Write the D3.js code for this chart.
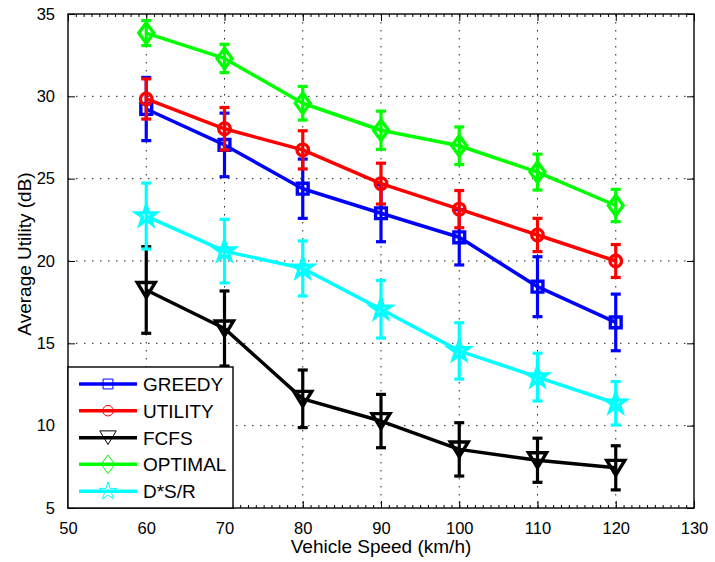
<!DOCTYPE html>
<html>
<head>
<meta charset="utf-8">
<script src="https://cdn.jsdelivr.net/npm/d3@7"></script>
<style>
  html, body { margin: 0; padding: 0; background: #fff; }
  svg { display: block; font-family: Arial, "Liberation Sans", Helvetica, sans-serif; }
</style>
</head>
<body>
<svg id="chart" width="715" height="562"></svg>
<script>
// ---- data ----
const speeds = [60, 70, 80, 90, 100, 110, 120];
const greedy = [29.23, 27.05, 24.39, 22.9, 21.44, 18.44, 16.27];
const greedyErr = [1.92, 1.93, 1.8, 1.73, 1.68, 1.82, 1.72];
const utility = [29.84, 28.03, 26.75, 24.7, 23.15, 21.58, 20.0];
const utilityErr = [1.22, 1.29, 1.16, 1.24, 1.13, 1.01, 1.0];
const fcfs = [18.24, 15.9, 11.63, 10.28, 8.56, 7.9, 7.44];
const fcfsErr = [2.63, 2.28, 1.75, 1.62, 1.62, 1.34, 1.34];
const optimal = [33.84, 32.3, 29.58, 27.94, 27.0, 25.4, 23.37];
const optimalErr = [0.76, 0.86, 1.02, 1.16, 1.14, 1.09, 0.98];
const dsr = [22.73, 20.6, 19.55, 17.07, 14.54, 12.95, 11.36];
const dsrErr = [2.0, 1.93, 1.67, 1.75, 1.71, 1.45, 1.32];

const seriesNames = ["GREEDY", "UTILITY", "FCFS", "OPTIMAL", "D*S/R"];
const xTicks = [50, 60, 70, 80, 90, 100, 110, 120, 130];
const yTicks = [5, 10, 15, 20, 25, 30, 35];
const xLabel = "Vehicle Speed (km/h)";
const yLabel = "Average Utility (dB)";

// ---- config ----
const colors = ["#0000ff", "#ff0000", "#000000", "#00ff00", "#00ffff"];
const markers = ["square", "circle", "triangle", "diamond", "star"];
const series = [
  { name: seriesNames[0], vals: greedy, err: greedyErr },
  { name: seriesNames[1], vals: utility, err: utilityErr },
  { name: seriesNames[2], vals: fcfs, err: fcfsErr },
  { name: seriesNames[3], vals: optimal, err: optimalErr },
  { name: seriesNames[4], vals: dsr, err: dsrErr }
];

const svg = d3.select("#chart");
const L = 68, T = 14, R = 694, B = 508;
const x = d3.scaleLinear().domain([50, 130]).range([L, R]);
const y = d3.scaleLinear().domain([5, 35]).range([B, T]);

// grid
const grid = svg.append("g");
grid.selectAll(".gx").data(xTicks.slice(1, -1)).enter().append("line")
  .attr("x1", d => x(d)).attr("x2", d => x(d)).attr("y1", T).attr("y2", B)
  .attr("stroke", "#222").attr("stroke-width", 1).attr("stroke-dasharray", "1.5,6.5");
grid.selectAll(".gy").data(yTicks.slice(1, -1)).enter().append("line")
  .attr("y1", d => y(d)).attr("y2", d => y(d)).attr("x1", L).attr("x2", R)
  .attr("stroke", "#222").attr("stroke-width", 1).attr("stroke-dasharray", "1.5,6.5");

// axes
const fontTick = 16.5;
const axB = d3.axisBottom(x).tickValues(xTicks).tickSizeInner(-7).tickSizeOuter(0).tickPadding(14);
const axT = d3.axisTop(x).tickValues(xTicks).tickSizeInner(-7).tickSizeOuter(0).tickFormat("");
const axL = d3.axisLeft(y).tickValues(yTicks).tickSizeInner(-7).tickSizeOuter(0).tickPadding(13);
const axR = d3.axisRight(y).tickValues(yTicks).tickSizeInner(-7).tickSizeOuter(0).tickFormat("");
const minor = d3.range(50, 131, 1);
const axBm = d3.axisBottom(x).tickValues(minor).tickSizeInner(-3).tickSizeOuter(0).tickFormat("");
const axTm = d3.axisTop(x).tickValues(minor).tickSizeInner(-3).tickSizeOuter(0).tickFormat("");

function styleAxis(g) {
  g.select(".domain").remove();
  g.selectAll(".tick line").attr("stroke", "#000").attr("stroke-width", 1);
  g.selectAll("text").attr("fill", "#000").attr("font-size", fontTick)
    .attr("font-family", "Arial, 'Liberation Sans', Helvetica, sans-serif");
}
svg.append("g").attr("transform", `translate(0,${B})`).call(axBm).call(styleAxis);
svg.append("g").attr("transform", `translate(0,${T})`).call(axTm).call(styleAxis);
svg.append("g").attr("transform", `translate(0,${B})`).call(axB).call(styleAxis);
svg.append("g").attr("transform", `translate(0,${T})`).call(axT).call(styleAxis);
svg.append("g").attr("transform", `translate(${L},0)`).call(axL).call(styleAxis);
svg.append("g").attr("transform", `translate(${R},0)`).call(axR).call(styleAxis);

// box
svg.append("rect").attr("x", L).attr("y", T).attr("width", R - L).attr("height", B - T)
  .attr("fill", "none").attr("stroke", "#000").attr("stroke-width", 1.4);

// marker path generator
function markerPath(type, s) {
  switch (type) {
    case "square": { const h = s * 0.45; return `M${-h},${-h}H${h}V${h}H${-h}Z`; }
    case "circle": { const r = s * 0.48; return `M${r},0A${r},${r} 0 1,1 ${-r},0A${r},${r} 0 1,1 ${r},0Z`; }
    case "triangle": { const w = s * 0.75, h = s * 0.62; return `M${-w},${-h}L${w},${-h}L0,${h}Z`; }
    case "diamond": { const w = s * 0.62, h = s * 0.85; return `M0,${-h}L${w},0L0,${h}L${-w},0Z`; }
    case "star": {
      const ro = s * 0.85, ri = ro * 0.382; let p = "";
      for (let i = 0; i < 10; i++) {
        const r = i % 2 === 0 ? ro : ri;
        const a = -Math.PI / 2 + i * Math.PI / 5;
        p += (i === 0 ? "M" : "L") + (r * Math.cos(a)).toFixed(2) + "," + (r * Math.sin(a)).toFixed(2);
      }
      return p + "Z";
    }
  }
}

const line = d3.line().x(d => x(d[0])).y(d => y(d[1]));
const capW = 5;

series.forEach((s, i) => {
  const c = colors[i];
  const g = svg.append("g");
  const pts = speeds.map((sp, j) => [sp, s.vals[j], s.err[j]]);
  // error bars
  const eb = g.selectAll(".eb").data(pts).enter().append("g");
  eb.append("line").attr("x1", d => x(d[0])).attr("x2", d => x(d[0]))
    .attr("y1", d => y(d[1] + d[2])).attr("y2", d => y(d[1] - d[2]))
    .attr("stroke", c).attr("stroke-width", 3.2);
  eb.append("line").attr("x1", d => x(d[0]) - capW).attr("x2", d => x(d[0]) + capW)
    .attr("y1", d => y(d[1] + d[2])).attr("y2", d => y(d[1] + d[2]))
    .attr("stroke", c).attr("stroke-width", 3.2);
  eb.append("line").attr("x1", d => x(d[0]) - capW).attr("x2", d => x(d[0]) + capW)
    .attr("y1", d => y(d[1] - d[2])).attr("y2", d => y(d[1] - d[2]))
    .attr("stroke", c).attr("stroke-width", 3.2);
  // line
  g.append("path").datum(pts).attr("d", line).attr("fill", "none")
    .attr("stroke", c).attr("stroke-width", 3.5).attr("stroke-linejoin", "round");
  // markers
  g.selectAll(".mk").data(pts).enter().append("path")
    .attr("transform", d => `translate(${x(d[0])},${y(d[1])})`)
    .attr("d", markerPath(markers[i], 12))
    .attr("fill", "none").attr("stroke", c).attr("stroke-width", 3.4)
    .attr("stroke-linejoin", "miter");
});

// legend
const lg = svg.append("g");
const lgX = 68, lgY = 367, lgW = 165, lgH = 141;
lg.append("rect").attr("x", lgX).attr("y", lgY).attr("width", lgW).attr("height", lgH)
  .attr("fill", "#fff").attr("stroke", "#000").attr("stroke-width", 1.4);
const rowY = [384, 410.7, 437.7, 464.3, 491.3];
series.forEach((s, i) => {
  const yy = rowY[i];
  lg.append("line").attr("x1", 79).attr("x2", 137).attr("y1", yy).attr("y2", yy)
    .attr("stroke", colors[i]).attr("stroke-width", 3.5);
  lg.append("path").attr("transform", `translate(108,${yy})`)
    .attr("d", markerPath(markers[i], 11))
    .attr("fill", "none").attr("stroke", colors[i]).attr("stroke-width", 1);
  lg.append("text").attr("x", 143).attr("y", yy).attr("dy", "0.36em")
    .attr("font-size", 19).attr("fill", "#000").text(s.name);
});

// axis labels
svg.append("text").attr("x", (L + R) / 2).attr("y", 553).attr("text-anchor", "middle")
  .attr("font-size", 19).attr("fill", "#000").text(xLabel);
svg.append("text").attr("transform", `translate(31,254) rotate(-90)`).attr("text-anchor", "middle")
  .attr("font-size", 19).attr("fill", "#000").text(yLabel);
</script>
</body>
</html>
